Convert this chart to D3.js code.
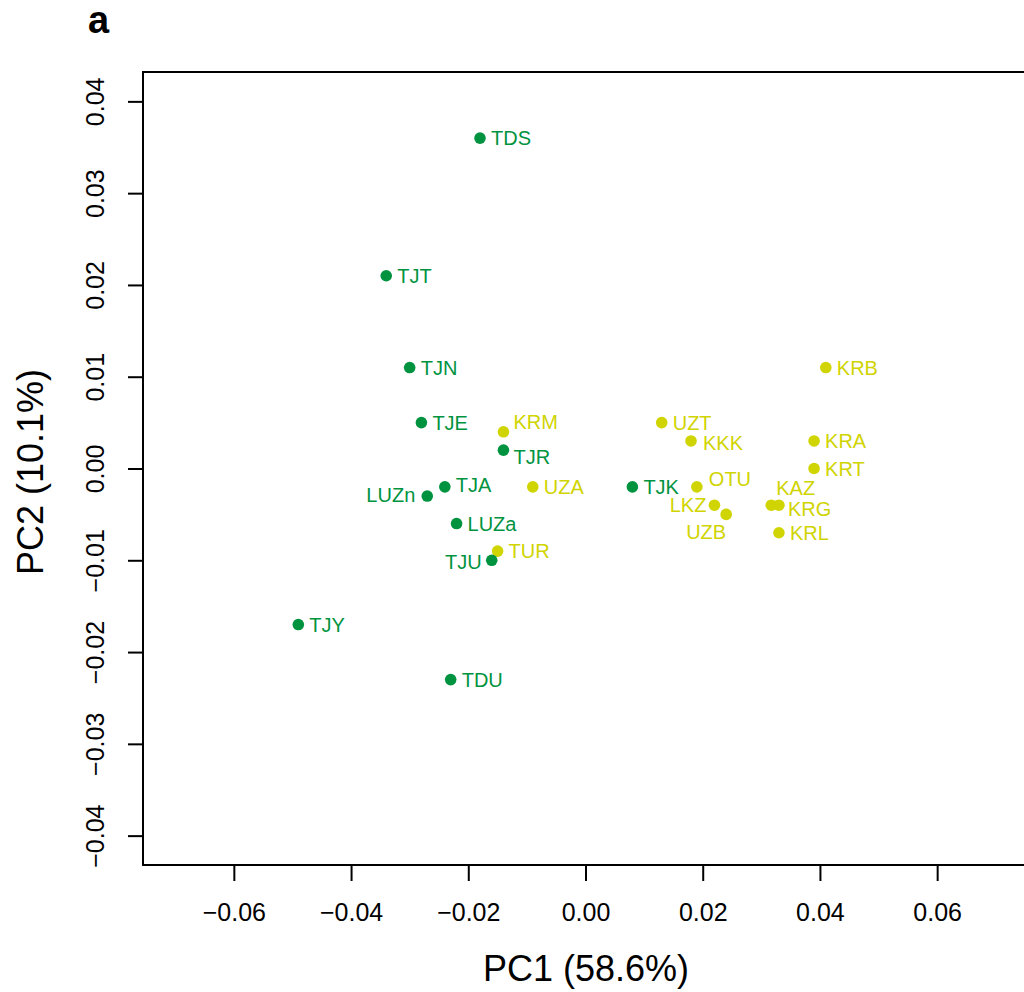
<!DOCTYPE html>
<html>
	<head>
		<meta charset="utf-8">
		<title>PCA plot</title>
		<script src="https://d3js.org/d3.v7.min.js"></script>
		<style>
			body { margin: 0; background: #fff; }
			text { font-family: "Liberation Sans", Arial, Helvetica, sans-serif; }
		</style>
	</head>
	<body>
		<script>
			// populations, PC coordinates and group (0 = green, 1 = yellow)
			var pops = ["TDS", "TJT", "TJN", "TJE", "KRM", "TJR", "TJA", "LUZn", "UZA", "LUZa",
						"TUR", "TJU", "TJY", "TDU", "TJK", "UZT", "KKK", "OTU", "LKZ", "UZB",
						"KAZ", "KRG", "KRL", "KRB", "KRA", "KRT"];
			var pc1 = [-0.018, -0.034, -0.030, -0.028, -0.014, -0.014, -0.024, -0.027, -0.009, -0.022,
						-0.015, -0.016, -0.049, -0.023, 0.008, 0.013, 0.018, 0.019, 0.022, 0.024,
						0.0317, 0.033, 0.033, 0.041, 0.039, 0.039];
			var pc2 = [0.036, 0.021, 0.011, 0.005, 0.004, 0.002, -0.002, -0.003, -0.002, -0.006,
						-0.009, -0.010, -0.017, -0.023, -0.002, 0.005, 0.003, -0.002, -0.004, -0.005,
						-0.004, -0.004, -0.007, 0.011, 0.003, 0.000];
			var group = [0, 0, 0, 0, 1, 0, 0, 0, 1, 0,
						1, 0, 0, 0, 0, 1, 1, 1, 1, 1,
						1, 1, 1, 1, 1, 1];
			var xTicks = [-0.06, -0.04, -0.02, 0.00, 0.02, 0.04, 0.06];
			var yTicks = [-0.04, -0.03, -0.02, -0.01, 0.00, 0.01, 0.02, 0.03, 0.04];

			var w = 1024;
			var h = 992;
			var colors = ["#00933f", "#d0d400"];

			// label nudges where the default (right of point) was not used
			var nudge = {
				KRM: [10, -10, "start"],
				TJR: [10, 7, "start"],
				TJA: [11, -2, "start"],
				LUZn: [-12, -1, "end"],
				TJU: [-10, 2, "end"],
				OTU: [12, -8, "start"],
				KKK: [12, 2, "start"],
				LKZ: [-8, 0, "end"],
				UZB: [0, 17, "end"],
				KAZ: [5, -17, "start"],
				KRG: [9, 4, "start"]
			};

			var xScale = d3.scaleLinear()
				.domain([-0.0755, 0.0755])
				.range([143, 1028]);
			var yScale = d3.scaleLinear()
				.domain([-0.0432, 0.0432])
				.range([865, 72]);

			var svg = d3.select("body")
						.append("svg")
						.attr("width", w)
						.attr("height", h);

			var data = pops.map(function(p, i) {
				return {name: p, x: pc1[i], y: pc2[i], g: group[i]};
			});

			// box
			svg.append("rect")
				.attr("x", xScale.range()[0])
				.attr("y", yScale.range()[1])
				.attr("width", xScale.range()[1] - xScale.range()[0])
				.attr("height", yScale.range()[0] - yScale.range()[1])
				.attr("fill", "none")
				.attr("stroke", "#000")
				.attr("stroke-width", 2);

			var fmt = function(d) { return d3.format(".2f")(d).replace("-", "\u2212"); };

			var xAxis = d3.axisBottom(xScale)
				.tickValues(xTicks)
				.tickSize(16)
				.tickPadding(22)
				.tickFormat(fmt);
			var yAxis = d3.axisLeft(yScale)
				.tickValues(yTicks)
				.tickSize(15)
				.tickFormat(fmt);

			var gx = svg.append("g")
				.attr("transform", "translate(0," + 865 + ")")
				.call(xAxis);
			gx.select(".domain").remove();
			gx.selectAll("line").attr("stroke-width", 2);
			gx.selectAll("text")
				.attr("font-size", 25)
				.attr("font-family", "Liberation Sans, Arial, sans-serif")
				.attr("fill", "#000");

			var gy = svg.append("g")
				.attr("transform", "translate(143,0)")
				.call(yAxis);
			gy.select(".domain").remove();
			gy.selectAll("line").attr("stroke-width", 2);
			gy.selectAll("text")
				.attr("font-size", 25)
				.attr("font-family", "Liberation Sans, Arial, sans-serif")
				.attr("fill", "#000")
				.attr("text-anchor", "middle")
				.attr("x", null)
				.attr("dy", null)
				.attr("transform", "translate(-39,0) rotate(-90)");

			// points
			svg.selectAll("circle")
			   .data(data)
			   .enter()
			   .append("circle")
			   .attr("cx", function(d) { return xScale(d.x); })
			   .attr("cy", function(d) { return yScale(d.y); })
			   .attr("r", 5.8)
			   .attr("fill", function(d) { return colors[d.g]; });

			svg.selectAll("text.lab")
			   .data(data)
			   .enter()
			   .append("text")
			   .attr("class", "lab")
			   .attr("x", function(d) {
			   		var n = nudge[d.name] || [11, 0];
			   		return xScale(d.x) + n[0];
			   })
			   .attr("y", function(d) {
			   		var n = nudge[d.name] || [11, 0];
			   		return yScale(d.y) + n[1];
			   })
			   .attr("dy", "0.36em")
			   .attr("text-anchor", function(d) {
			   		return nudge[d.name] ? nudge[d.name][2] : "start";
			   })
			   .attr("font-size", 20)
			   .attr("fill", function(d) { return colors[d.g]; })
			   .text(function(d) { return d.name; });

			// axis titles
			svg.append("text")
				.attr("x", 586)
				.attr("y", 981)
				.attr("text-anchor", "middle")
				.attr("font-size", 36)
				.text("PC1 (58.6%)");

			svg.append("text")
				.attr("transform", "translate(43,472) rotate(-90)")
				.attr("text-anchor", "middle")
				.attr("font-size", 36)
				.text("PC2 (10.1%)");

			svg.append("text")
				.attr("x", 88)
				.attr("y", 33)
				.attr("font-size", 38)
				.attr("font-weight", "bold")
				.text("a");
		</script>
	</body>
</html>
